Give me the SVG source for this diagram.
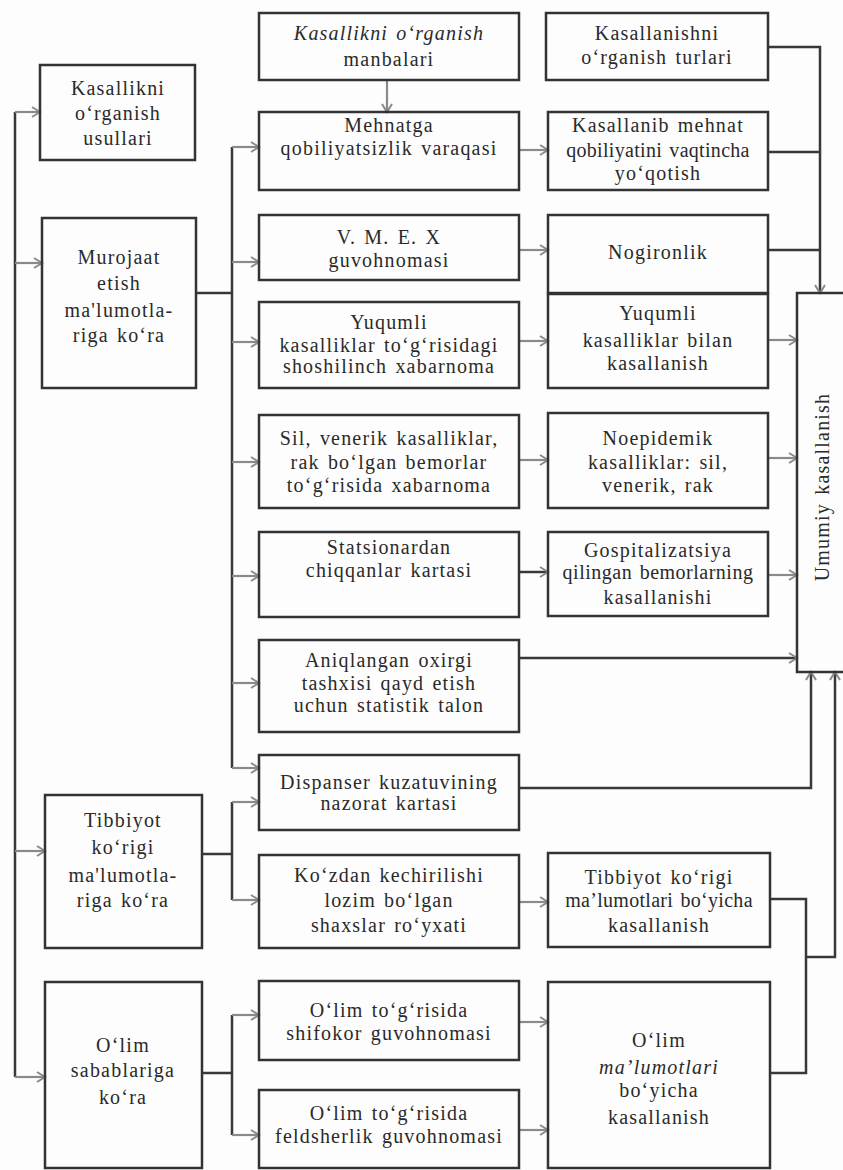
<svg xmlns="http://www.w3.org/2000/svg" width="843" height="1170" viewBox="0 0 843 1170">
<defs>
<marker id="ah" markerUnits="userSpaceOnUse" markerWidth="14" markerHeight="14" refX="11" refY="7" orient="auto">
<path d="M3,2 L11,7 L3,12" fill="none" stroke="#8a8a8a" stroke-width="2"/>
</marker>
<style>
.box{fill:none;stroke:#333;stroke-width:2.5}
.ln{fill:none;stroke:#383838;stroke-width:2.5}
.ar{fill:none;stroke:#8a8a8a;stroke-width:2.2;marker-end:url(#ah)}
.arl{fill:none;stroke:#383838;stroke-width:2.5;marker-end:url(#ah)}
text{font-family:"Liberation Serif","Times New Roman",serif;font-size:20px;fill:#2a2a2a;text-anchor:middle;letter-spacing:1.2px;word-spacing:2px}
.it{font-style:italic}
</style>
</defs>
<rect width="843" height="1170" fill="#fdfdfd"/>

<g id="connectors">
<path class="ln" d="M15,112 V1077"/>
<path class="ar" d="M15,112 H40"/>
<path class="ar" d="M15,263 H42"/>
<path class="ar" d="M15,851 H45"/>
<path class="ar" d="M15,1077 H45"/>

<path class="ln" d="M196,293 H232 M232,147 V768"/>
<path class="ar" d="M232,147 H259"/>
<path class="ar" d="M232,262 H259"/>
<path class="ar" d="M232,342 H259"/>
<path class="ar" d="M232,462 H259"/>
<path class="ar" d="M232,576 H259"/>
<path class="ar" d="M232,683 H259"/>
<path class="ar" d="M232,768 H259"/>

<path class="ln" d="M202,854 H232 M232,802 V900"/>
<path class="ar" d="M232,802 H259"/>
<path class="ar" d="M232,900 H259"/>

<path class="ln" d="M202,1073 H232 M232,1015 V1135"/>
<path class="ar" d="M232,1015 H259"/>
<path class="ar" d="M232,1135 H259"/>

<path class="ar" d="M387,80 V112"/>
<path class="ar" d="M519,150 H548"/>
<path class="ar" d="M519,250 H548"/>
<path class="ar" d="M519,341 H548"/>
<path class="ar" d="M519,460 H548"/>
<path class="arl" d="M519,572 H548"/>
<path class="ar" d="M519,902 H548"/>
<path class="ar" d="M519,1022 H548"/>
<path class="ar" d="M519,1130 H548"/>

<path class="arl" d="M768,47 H820 V293"/>
<path class="ln" d="M768,152 H820"/>
<path class="ln" d="M768,250 H820"/>
<path class="ar" d="M768,340 H797"/>
<path class="ar" d="M768,458 H797"/>
<path class="ar" d="M768,575 H797"/>
<path class="arl" d="M519,658 H797"/>
<path class="arl" d="M519,788 H811 V672"/>
<path class="ln" d="M770,899 H806 V1073 H770"/>
<path class="arl" d="M806,957 H835 V672"/>
</g>

<g id="n_usullari"><rect class="box" x="40" y="65" width="155" height="95"/>
<text><tspan x="118" y="95">Kasallikni</tspan><tspan x="118" y="120">o‘rganish</tspan><tspan x="118" y="145">usullari</tspan></text></g>

<g id="n_murojaat"><rect class="box" x="42" y="218" width="154" height="170"/>
<text><tspan x="119" y="264">Murojaat</tspan><tspan x="119" y="290">etish</tspan><tspan x="119" y="317">ma'lumotla-</tspan><tspan x="119" y="342">riga ko‘ra</tspan></text></g>

<g id="n_tibbiyot"><rect class="box" x="45" y="795" width="157" height="153"/>
<text><tspan x="123" y="827">Tibbiyot</tspan><tspan x="123" y="854">ko‘rigi</tspan><tspan x="123" y="882">ma'lumotla-</tspan><tspan x="123" y="907">riga ko‘ra</tspan></text></g>

<g id="n_olim"><rect class="box" x="45" y="982" width="157" height="186"/>
<text><tspan x="123" y="1052">O‘lim</tspan><tspan x="123" y="1077">sabablariga</tspan><tspan x="123" y="1104">ko‘ra</tspan></text></g>

<g id="m_manbalari"><rect class="box" x="259" y="13" width="260" height="67"/>
<text><tspan class="it" x="389" y="40">Kasallikni o‘rganish</tspan><tspan x="389" y="66">manbalari</tspan></text></g>

<g id="m_mehnat"><rect class="box" x="259" y="112" width="260" height="78"/>
<text><tspan x="389" y="132">Mehnatga</tspan><tspan x="389" y="155">qobiliyatsizlik varaqasi</tspan></text></g>

<g id="m_vmex"><rect class="box" x="259" y="215" width="260" height="65"/>
<text><tspan x="389" y="244">V. M. E. X</tspan><tspan x="389" y="267">guvohnomasi</tspan></text></g>

<g id="m_yuqumli"><rect class="box" x="259" y="302" width="260" height="86"/>
<text><tspan x="389" y="329">Yuqumli</tspan><tspan x="389" y="352">kasalliklar  to‘g‘risidagi</tspan><tspan x="389" y="373">shoshilinch xabarnoma</tspan></text></g>

<g id="m_sil"><rect class="box" x="259" y="415" width="260" height="93"/>
<text><tspan x="389" y="445">Sil,  venerik  kasalliklar,</tspan><tspan x="389" y="469">rak bo‘lgan bemorlar</tspan><tspan x="389" y="492">to‘g‘risida xabarnoma</tspan></text></g>

<g id="m_stats"><rect class="box" x="259" y="532" width="260" height="85"/>
<text><tspan x="389" y="554">Statsionardan</tspan><tspan x="389" y="577">chiqqanlar  kartasi</tspan></text></g>

<g id="m_aniq"><rect class="box" x="259" y="640" width="260" height="92"/>
<text><tspan x="389" y="667">Aniqlangan  oxirgi</tspan><tspan x="389" y="690">tashxisi  qayd  etish</tspan><tspan x="389" y="712">uchun statistik talon</tspan></text></g>

<g id="m_disp"><rect class="box" x="259" y="755" width="260" height="75"/>
<text><tspan x="389" y="789">Dispanser kuzatuvining</tspan><tspan x="389" y="810">nazorat kartasi</tspan></text></g>

<g id="m_kozdan"><rect class="box" x="259" y="855" width="260" height="93"/>
<text><tspan x="389" y="882">Ko‘zdan kechirilishi</tspan><tspan x="389" y="907">lozim  bo‘lgan</tspan><tspan x="389" y="932">shaxslar  ro‘yxati</tspan></text></g>

<g id="m_shifokor"><rect class="box" x="259" y="981" width="260" height="79"/>
<text><tspan x="389" y="1017">O‘lim to‘g‘risida</tspan><tspan x="389" y="1040">shifokor  guvohnomasi</tspan></text></g>

<g id="m_feldsher"><rect class="box" x="259" y="1090" width="260" height="78"/>
<text><tspan x="389" y="1120">O‘lim to‘g‘risida</tspan><tspan x="389" y="1143">feldsherlik guvohnomasi</tspan></text></g>

<g id="r_turlari"><rect class="box" x="546" y="13" width="222" height="67"/>
<text><tspan x="657" y="40">Kasallanishni</tspan><tspan x="657" y="64">o‘rganish  turlari</tspan></text></g>

<g id="r_vaqtincha"><rect class="box" x="548" y="112" width="220" height="78"/>
<text><tspan x="658" y="132">Kasallanib mehnat</tspan><tspan x="658" y="157" letter-spacing="0.3">qobiliyatini vaqtincha</tspan><tspan x="658" y="180">yo‘qotish</tspan></text></g>

<g id="r_nogiron"><rect class="box" x="548" y="215" width="220" height="78"/>
<text><tspan x="658" y="259">Nogironlik</tspan></text></g>

<g id="r_yuqumli"><rect class="box" x="548" y="294" width="220" height="94"/>
<text><tspan x="658" y="320">Yuqumli</tspan><tspan x="658" y="347">kasalliklar  bilan</tspan><tspan x="658" y="370">kasallanish</tspan></text></g>

<g id="r_noepid"><rect class="box" x="548" y="413" width="220" height="95"/>
<text><tspan x="658" y="445">Noepidemik</tspan><tspan x="658" y="469">kasalliklar: sil,</tspan><tspan x="658" y="492">venerik,  rak</tspan></text></g>

<g id="r_gospital"><rect class="box" x="548" y="532" width="220" height="84"/>
<text><tspan x="658" y="557">Gospitalizatsiya</tspan><tspan x="658" y="579" letter-spacing="0.5">qilingan bemorlarning</tspan><tspan x="658" y="604">kasallanishi</tspan></text></g>

<g id="r_tibbiyot"><rect class="box" x="548" y="853" width="222" height="94"/>
<text><tspan x="659" y="884">Tibbiyot  ko‘rigi</tspan><tspan x="659" y="907" letter-spacing="0.3">ma’lumotlari bo‘yicha</tspan><tspan x="659" y="932">kasallanish</tspan></text></g>

<g id="r_olim"><rect class="box" x="548" y="982" width="222" height="186"/>
<text><tspan x="659" y="1047">O‘lim</tspan><tspan class="it" x="659" y="1074">ma’lumotlari</tspan><tspan x="659" y="1097">bo‘yicha</tspan><tspan x="659" y="1124">kasallanish</tspan></text></g>

<g id="umumiy"><rect class="box" x="797" y="293" width="50" height="379"/>
<text transform="translate(829,487) rotate(-90)"><tspan x="0" y="0">Umumiy kasallanish</tspan></text></g>
</svg>
